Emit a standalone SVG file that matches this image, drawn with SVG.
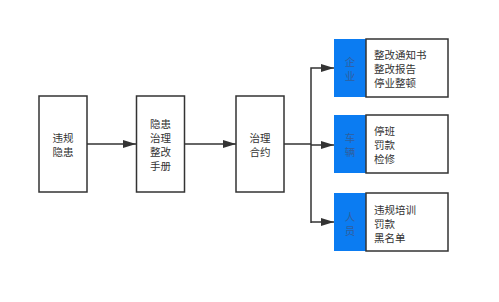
<svg xmlns="http://www.w3.org/2000/svg" width="499" height="302" viewBox="0 0 499 302">
<defs>
<style>
.box{fill:#fff;stroke:#333;stroke-width:1.5}
.tag{fill:#0b7cf2;stroke:none}
.t{font-family:"Noto Sans CJK SC",sans-serif;font-size:10.5px;fill:#333;dominant-baseline:central}
.c{text-anchor:middle}
.tb{font-family:"Noto Sans CJK SC",sans-serif;font-size:10.5px;fill:#2f5f9e;text-anchor:middle;dominant-baseline:central}
.ln{fill:none;stroke:#333;stroke-width:1.5}
</style>
<marker id="ah" markerWidth="14" markerHeight="10" refX="13" refY="5" orient="auto" markerUnits="userSpaceOnUse">
<path d="M0,1 L13,5 L0,9 Z" fill="#333"/>
</marker>
</defs>
<rect width="499" height="302" fill="#fff"/>
<g id="connectors">
<line class="ln" x1="87" y1="144" x2="136" y2="144" marker-end="url(#ah)"/>
<line class="ln" x1="185" y1="144" x2="236" y2="144" marker-end="url(#ah)"/>
<line class="ln" x1="284" y1="144" x2="311" y2="144"/>
<polyline class="ln" points="311,223 311,68 334,68" marker-end="url(#ah)"/>
<line class="ln" x1="311" y1="145" x2="334" y2="145" marker-end="url(#ah)"/>
<line class="ln" x1="311" y1="222" x2="334" y2="222" marker-end="url(#ah)"/>
</g>
<g id="n1">
<rect class="box" x="39" y="96" width="48" height="96"/>
<text class="t c" x="63" y="137">违规</text>
<text class="t c" x="63" y="151">隐患</text>
</g>
<g id="n2">
<rect class="box" x="136.5" y="96" width="48" height="96"/>
<text class="t c" x="160.5" y="123">隐患</text>
<text class="t c" x="160.5" y="137">治理</text>
<text class="t c" x="160.5" y="151">整改</text>
<text class="t c" x="160.5" y="165">手册</text>
</g>
<g id="n3">
<rect class="box" x="236" y="96" width="48" height="96"/>
<text class="t c" x="260" y="137">治理</text>
<text class="t c" x="260" y="151">合约</text>
</g>
<g id="n4">
<rect class="tag" x="334" y="39" width="32" height="58"/>
<rect class="box" x="366" y="39" width="82" height="58"/>
<text class="tb" x="350" y="61">企</text>
<text class="tb" x="350" y="75">业</text>
<text class="t" x="374" y="54">整改通知书</text>
<text class="t" x="374" y="68">整改报告</text>
<text class="t" x="374" y="82">停业整顿</text>
</g>
<g id="n5">
<rect class="tag" x="334" y="115" width="32" height="58"/>
<rect class="box" x="366" y="115" width="82" height="58"/>
<text class="tb" x="350" y="137">车</text>
<text class="tb" x="350" y="151">辆</text>
<text class="t" x="374" y="130">停班</text>
<text class="t" x="374" y="144">罚款</text>
<text class="t" x="374" y="158">检修</text>
</g>
<g id="n6">
<rect class="tag" x="334" y="193" width="32" height="58"/>
<rect class="box" x="366" y="193" width="82" height="58"/>
<text class="tb" x="350" y="216">人</text>
<text class="tb" x="350" y="230">员</text>
<text class="t" x="374" y="209">违规培训</text>
<text class="t" x="374" y="223">罚款</text>
<text class="t" x="374" y="237">黑名单</text>
</g>
</svg>
